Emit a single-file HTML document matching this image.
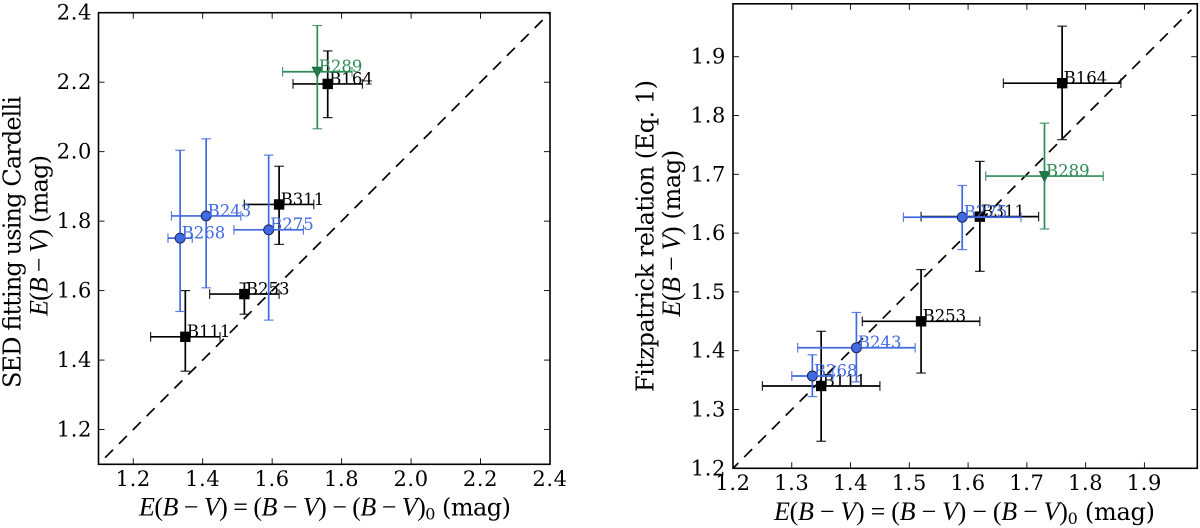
<!DOCTYPE html>
<html lang="en">
<head>
<meta charset="utf-8">
<title>E(B-V) comparison charts</title>
<style>
html,body{margin:0;padding:0;background:#fff;width:1200px;height:528px;overflow:hidden}
svg{display:block}
text{fill:#000}
.tick-label{font-family:"DejaVu Serif","Liberation Serif",serif;font-size:21px;letter-spacing:.6px}
.label{font-family:"DejaVu Serif","Liberation Serif",serif;font-size:24px}
.math{font-family:"Liberation Serif",serif;font-style:italic;font-size:26px}
.mathr{font-family:"Liberation Serif",serif;font-size:26px}
.sub{font-family:"DejaVu Serif",serif;font-size:16px}
.pt{font-family:"DejaVu Serif","Liberation Serif",serif;font-size:16.5px}
</style>
</head>
<body>
<svg id="chart" xmlns="http://www.w3.org/2000/svg" width="1200" height="528" viewBox="0 0 1200 528">
  <defs>
    <clipPath id="clip-left"><rect x="98.5" y="12.7" width="451.5" height="451.6"/></clipPath>
    <clipPath id="clip-right"><rect x="733" y="3.8" width="464.3" height="464.5"/></clipPath>
  </defs>
  <g id="left-panel"></g>
  <g id="right-panel"></g>

  <text x="139" y="515.7" textLength="372" class="label"><tspan class="math">E</tspan><tspan class="mathr">(</tspan><tspan class="math">B</tspan><tspan class="mathr"> − </tspan><tspan class="math">V</tspan><tspan class="mathr">) = (</tspan><tspan class="math">B</tspan><tspan class="mathr"> − </tspan><tspan class="math">V</tspan><tspan class="mathr">) − (</tspan><tspan class="math">B</tspan><tspan class="mathr"> − </tspan><tspan class="math">V</tspan><tspan class="mathr">)</tspan><tspan class="sub" dy="4">0</tspan><tspan dy="-4"> (mag)</tspan></text>
  <text x="774" y="520" textLength="381" class="label"><tspan class="math">E</tspan><tspan class="mathr">(</tspan><tspan class="math">B</tspan><tspan class="mathr"> − </tspan><tspan class="math">V</tspan><tspan class="mathr">) = (</tspan><tspan class="math">B</tspan><tspan class="mathr"> − </tspan><tspan class="math">V</tspan><tspan class="mathr">) − (</tspan><tspan class="math">B</tspan><tspan class="mathr"> − </tspan><tspan class="math">V</tspan><tspan class="mathr">)</tspan><tspan class="sub" dy="4">0</tspan><tspan dy="-4"> (mag)</tspan></text>

  <text transform="translate(20.7,388) rotate(-90)" textLength="292" class="label">SED fitting using Cardelli</text>
  <text transform="translate(47.7,316) rotate(-90)" textLength="161" class="label"><tspan class="math">E</tspan><tspan class="mathr">(</tspan><tspan class="math">B</tspan><tspan class="mathr"> − </tspan><tspan class="math">V</tspan><tspan class="mathr">)</tspan> (mag)</text>
  <text transform="translate(653.3,392) rotate(-90)" textLength="312" class="label">Fitzpatrick relation (Eq. 1)</text>
  <text transform="translate(680,316.7) rotate(-90)" textLength="167" class="label"><tspan class="math">E</tspan><tspan class="mathr">(</tspan><tspan class="math">B</tspan><tspan class="mathr"> − </tspan><tspan class="math">V</tspan><tspan class="mathr">)</tspan> (mag)</text>
</svg>
<script>
// Shared x values for each cluster
const sourceNames = ['B111', 'B253', 'B311', 'B164', 'B243', 'B268', 'B275', 'B289'];
const sourceGroups = ['black', 'black', 'black', 'black', 'blue', 'blue', 'blue', 'green'];
const xValues = [1.35, 1.52, 1.62, 1.76, 1.41, 1.335, 1.59, 1.73];
const xLow = [1.25, 1.42, 1.52, 1.66, 1.31, 1.30, 1.49, 1.63];
const xHigh = [1.45, 1.62, 1.72, 1.86, 1.51, 1.37, 1.69, 1.83];

// Left panel: SED fitting using Cardelli
const sedValues = [1.467, 1.59, 1.848, 2.195, 1.815, 1.751, 1.775, 2.23];
const sedLow = [1.368, 1.532, 1.733, 2.098, 1.608, 1.54, 1.515, 2.066];
const sedHigh = [1.6, 1.622, 1.958, 2.29, 2.037, 2.004, 1.99, 2.363];

// Right panel: Fitzpatrick relation
const fitzValues = [1.34, 1.45, 1.628, 1.855, 1.405, 1.357, 1.627, 1.697];
const fitzLow = [1.246, 1.362, 1.535, 1.759, 1.347, 1.322, 1.572, 1.607];
const fitzHigh = [1.433, 1.538, 1.722, 1.952, 1.465, 1.393, 1.681, 1.787];

// Tick labels
const leftTicks = ['1.2', '1.4', '1.6', '1.8', '2.0', '2.2', '2.4'];
const rightTicks = ['1.2', '1.3', '1.4', '1.5', '1.6', '1.7', '1.8', '1.9'];

// One-to-one reference lines
const leftLineEnds = [1.119, 2.4];
const rightLineEnds = [1.1955, 1.98];

const NS = 'http://www.w3.org/2000/svg';
const groupColors = { black: '#000000', blue: '#4169e1', green: '#2e8b57' };

function make(tag, parent, attrs) {
  const el = document.createElementNS(NS, tag);
  for (const k in attrs) el.setAttribute(k, attrs[k]);
  parent.appendChild(el);
  return el;
}

function linear(d0, d1, r0, r1) {
  return v => r0 + (v - d0) / (d1 - d0) * (r1 - r0);
}

function drawPanel(cfg) {
  const root = document.getElementById(cfg.id);
  const sx = linear(cfg.dom[0], cfg.dom[1], cfg.px[0], cfg.px[1]);
  const sy = linear(cfg.dom[0], cfg.dom[1], cfg.py[0], cfg.py[1]);
  const L = cfg.px[0], R = cfg.px[1], B = cfg.py[0], T = cfg.py[1];

  // reference line
  const clip = make('g', root, { 'clip-path': 'url(#' + cfg.clip + ')' });
  const ref = make('line', clip, {
    x1: sx(cfg.line[0]), y1: sy(cfg.line[0]), x2: sx(cfg.line[1]), y2: sy(cfg.line[1]),
    stroke: '#000', 'stroke-width': 1.7, 'stroke-dasharray': '11.2 8.4'
  });
  
  

  // series
  sourceNames.forEach((name, i) => {
    const color = groupColors[sourceGroups[i]];
    const g = make('g', root, {});
    
    
    const x = sx(xValues[i]), y = sy(cfg.values[i]);
    const x0 = sx(xLow[i]), x1 = sx(xHigh[i]);
    const y0 = sy(cfg.low[i]), y1 = sy(cfg.high[i]);
    const w = 1.7;
    make('line', g, { x1: x0, y1: y, x2: x1, y2: y, stroke: color, 'stroke-width': w });
    make('line', g, { x1: x, y1: y0, x2: x, y2: y1, stroke: color, 'stroke-width': w });
    const capOpacity = 0.85;
    make('line', g, { x1: x0, y1: y - 4.8, x2: x0, y2: y + 4.8, stroke: color, 'stroke-width': 1.2, opacity: capOpacity });
    make('line', g, { x1: x1, y1: y - 4.8, x2: x1, y2: y + 4.8, stroke: color, 'stroke-width': 1.2, opacity: capOpacity });
    make('line', g, { x1: x - 4.8, y1: y0, x2: x + 4.8, y2: y0, stroke: color, 'stroke-width': 1.2, opacity: capOpacity });
    make('line', g, { x1: x - 4.8, y1: y1, x2: x + 4.8, y2: y1, stroke: color, 'stroke-width': 1.2, opacity: capOpacity });
    if (sourceGroups[i] === 'black') {
      make('rect', g, { x: x - 5.2, y: y - 5.2, width: 10.4, height: 10.4, fill: '#000' });
    } else if (sourceGroups[i] === 'blue') {
      make('circle', g, { cx: x, cy: y, r: 5, fill: color, stroke: '#10204a', 'stroke-width': 0.9 });
    } else {
      make('polygon', g, {
        points: (x - 5.2) + ',' + (y - 4.6) + ' ' + (x + 5.2) + ',' + (y - 4.6) + ' ' + x + ',' + (y + 5.6),
        fill: '#1f7a4a', stroke: '#155c37', 'stroke-width': 0.7
      });
    }
    const t = make('text', g, { x: x + 1.5, y: y + 0.4, class: 'pt' });
    t.style.fill = color;
    t.textContent = name;
  });

  // frame
  const frame = make('rect', root, { x: L, y: T, width: R - L, height: B - T, fill: 'none', stroke: '#000', 'stroke-width': 1.6 });
  
  

  // ticks
  cfg.ticks.forEach(label => {
    const v = parseFloat(label);
    const x = sx(v), y = sy(v);
    const tickStroke = { stroke: '#000', 'stroke-width': 0.9 };
    make('line', root, Object.assign({ x1: x, y1: B, x2: x, y2: B - 6 }, tickStroke));
    make('line', root, Object.assign({ x1: x, y1: T, x2: x, y2: T + 6 }, tickStroke));
    make('line', root, Object.assign({ x1: L, y1: y, x2: L + 6, y2: y }, tickStroke));
    make('line', root, Object.assign({ x1: R, y1: y, x2: R - 6, y2: y }, tickStroke));

    const tx = make('text', root, { x: x, y: cfg.xLabelY, 'text-anchor': 'middle', class: 'tick-label' });
    
    
    tx.textContent = label;

    const ty = make('text', root, { x: cfg.yLabelX, y: y + 7, 'text-anchor': 'end', class: 'tick-label' });
    
    
    ty.textContent = label;
  });
}

drawPanel({
  id: 'left-panel', clip: 'clip-left',
  dom: [1.1, 2.4], px: [98.5, 550], py: [464.3, 12.7],
  values: sedValues, low: sedLow, high: sedHigh,
  ticks: leftTicks, line: leftLineEnds, xLabelY: 486, yLabelX: 92
});
drawPanel({
  id: 'right-panel', clip: 'clip-right',
  dom: [1.2, 1.99], px: [733, 1197.3], py: [468.3, 3.8],
  values: fitzValues, low: fitzLow, high: fitzHigh,
  ticks: rightTicks, line: rightLineEnds, xLabelY: 490, yLabelX: 726
});
</script>
</body>
</html>
